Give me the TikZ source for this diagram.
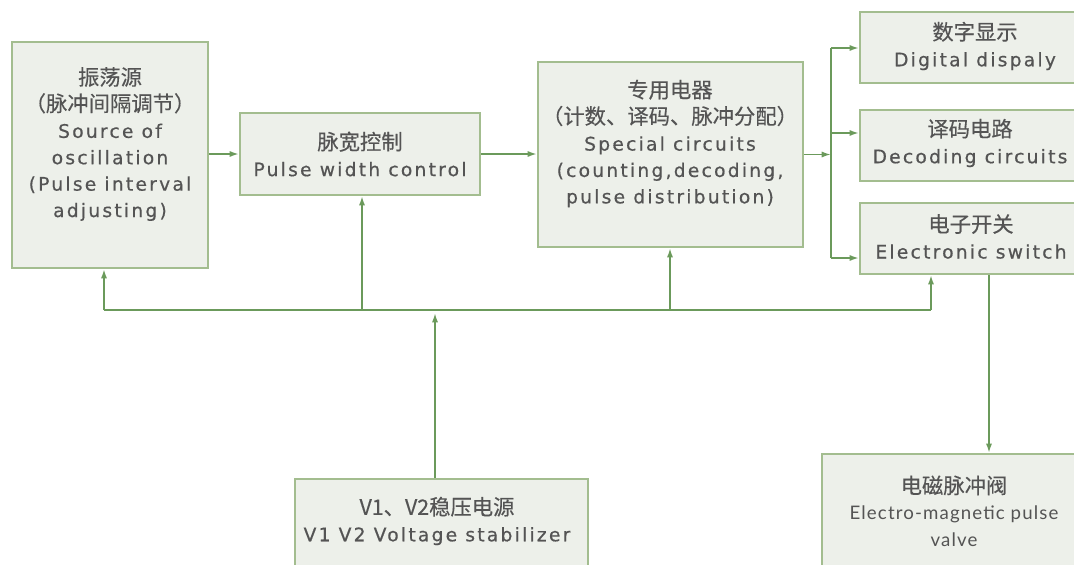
\documentclass[tikz,border=0pt]{standalone}
\usepackage{fontspec}
\setmainfont{DejaVu Sans}
\newfontfamily\cjk[FakeBold=0.3]{Noto Sans CJK SC}
\newfontfamily\lat[LetterSpace=12,FakeBold=0.6]{DejaVu Sans}
\newfontfamily\hum[LetterSpace=6]{Lato}
\usetikzlibrary{arrows.meta}
\definecolor{boxfill}{HTML}{EDF0EA}
\definecolor{boxline}{HTML}{A3BD8F}
\definecolor{arrowc}{HTML}{6B9A5B}
\definecolor{txt}{HTML}{545454}
\begin{document}
\begin{tikzpicture}[x=0.75pt,y=-0.75pt,
  box/.style={rectangle,draw=boxline,fill=boxfill,line width=1.6pt,inner sep=0pt},
  lbl/.style={align=center,text=txt,inner sep=0pt,font=\fontsize{14}{19.8}\selectfont},
  wire/.style={draw=arrowc,line width=1.3pt},
  arr/.style={wire,-{Latex[length=7pt,width=4.6pt]}}]
\useasboundingbox (0,0) rectangle (1074,564);
% boxes
\node[box,minimum width=196*0.75pt,minimum height=226*0.75pt] (A) at (110,155) {};
\node[box,minimum width=240*0.75pt,minimum height=82*0.75pt] (B) at (360,154) {};
\node[box,minimum width=265*0.75pt,minimum height=185*0.75pt] (C) at (670.5,154.5) {};
\node[box,minimum width=230*0.75pt,minimum height=71*0.75pt] (D) at (975,47.5) {};
\node[box,minimum width=230*0.75pt,minimum height=71*0.75pt] (E) at (975,145.5) {};
\node[box,minimum width=230*0.75pt,minimum height=71*0.75pt] (F) at (975,238.5) {};
\node[box,minimum width=293*0.75pt,minimum height=102*0.75pt] (G) at (441.5,530) {};
\node[box,minimum width=264*0.75pt,minimum height=120*0.75pt] (H) at (954,514) {};
% texts
\node[lbl] (At) at (110,144) {{\cjk\fontsize{16}{19.8}\selectfont 振荡源}\\{\cjk\fontsize{16}{19.8}\selectfont （脉冲间隔调节）}\\{\lat Source of}\\{\lat oscillation}\\{\lat (Pulse interval}\\{\lat adjusting)}};
\node[lbl] (Bt) at (360,154) {{\cjk\fontsize{16}{19.8}\selectfont 脉宽控制}\\{\lat Pulse width control}};
\node[lbl] (Ct) at (670,143.5) {{\cjk\fontsize{16}{19.8}\selectfont 专用电器}\\{\cjk\fontsize{16}{19.8}\selectfont （计数、译码、脉冲分配）}\\{\lat Special circuits}\\{\lat (counting,decoding,}\\{\lat pulse distribution)}};
\node[lbl] (Dt) at (975,46) {{\cjk\fontsize{16}{19.8}\selectfont 数字显示}\\{\lat Digital dispaly}};
\node[lbl] (Et) at (970,143) {{\cjk\fontsize{16}{19.8}\selectfont 译码电路}\\{\lat Decoding circuits}};
\node[lbl] (Ft) at (971,236.5) {{\cjk\fontsize{16}{19.8}\selectfont 电子开关}\\{\lat Electronic switch}};
\node[lbl] (Gt) at (437,521) {{\cjk\fontsize{16}{19.8}\selectfont V1、V2稳压电源}\\{\lat V1 V2 Voltage stabilizer}};
\node[lbl] (Ht) at (954,511) {{\cjk\fontsize{16}{19.8}\selectfont 电磁脉冲阀}\\{\hum Electro-magnetic pulse}\\{\hum valve}};
% forward chain
\draw[arr] (A.east |- B.west) -- (B.west);
\draw[arr] (B.east) -- (B.east -| C.west);
\coordinate (J) at (831,154.5);
\coordinate (bD) at (831,48);
\coordinate (bE) at (831,133);
\coordinate (bF) at (831,258);
\draw[arr] (C.east) -- (J);
\draw[wire] (bD) -- (bF);
\draw[arr] (bD) -- (bD -| D.west);
\draw[arr] (bE) -- (bE -| E.west);
\draw[arr] (bF) -- (bF -| F.west);
% power bus
\coordinate (pA) at (104,310);
\coordinate (pB) at (362,310);
\coordinate (pC) at (670,310);
\coordinate (pF) at (931,310);
\coordinate (pG) at (435,313);
\draw[wire] (pA) -- (pF);
\draw[arr] (pA) -- (pA |- A.south);
\draw[arr] (pB) -- (pB |- B.south);
\draw[arr] (pC) -- (pC |- C.south);
\draw[arr] (pF) -- (pF |- F.south);
\draw[arr] (pG |- G.north) -- (pG);
% valve
\coordinate (v) at (989,300);
\draw[arr] (v |- F.south) -- (v |- H.north);
\end{tikzpicture}
\end{document}
